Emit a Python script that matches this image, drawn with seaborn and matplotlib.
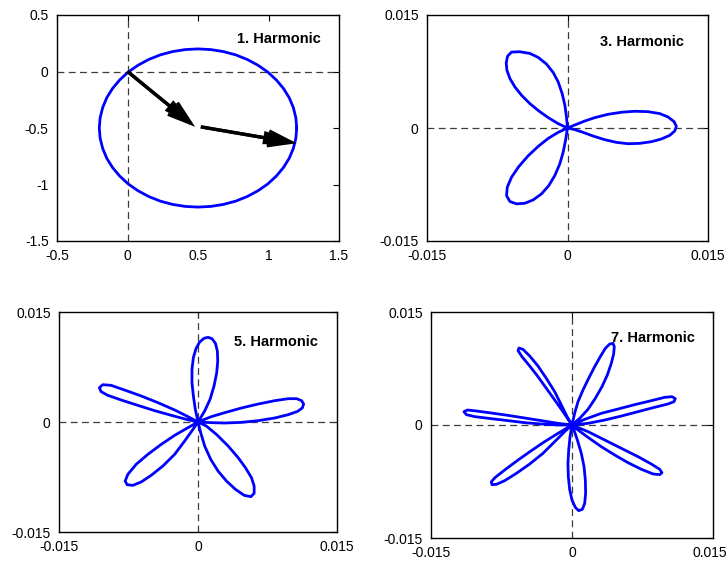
import numpy as np
import pandas as pd
import matplotlib
matplotlib.use("Agg")
import matplotlib.pyplot as plt
import matplotlib.transforms as mtransforms
import seaborn as sns
from matplotlib.patches import ArrowStyle

# ---------------------------------------------------------------------------
# Harmonic loci (x = real part, y = imaginary part)
# ---------------------------------------------------------------------------
# 1st harmonic: locus around (0.5, -0.5)
h1_x = [1.200, 1.194, 1.176, 1.147, 1.106, 1.055, 0.995, 0.926, 0.850, 0.768, 0.681, 0.591,
        0.500, 0.409, 0.319, 0.232, 0.150, 0.074, 0.005, -0.055, -0.106, -0.147, -0.176, -0.194,
        -0.200, -0.194, -0.176, -0.147, -0.106, -0.055, 0.005, 0.074, 0.150, 0.232, 0.319, 0.409,
        0.500, 0.591, 0.681, 0.768, 0.850, 0.926, 0.995, 1.055, 1.106, 1.147, 1.176, 1.194]
h1_y = [-0.500, -0.409, -0.319, -0.232, -0.150, -0.074, -0.005, 0.055, 0.106, 0.147, 0.176, 0.194,
        0.200, 0.194, 0.176, 0.147, 0.106, 0.055, -0.005, -0.074, -0.150, -0.232, -0.319, -0.409,
        -0.500, -0.591, -0.681, -0.768, -0.850, -0.926, -0.995, -1.055, -1.106, -1.147, -1.176, -1.194,
        -1.200, -1.194, -1.176, -1.147, -1.106, -1.055, -0.995, -0.926, -0.850, -0.768, -0.681, -0.591]

# phasor arrows drawn on the 1st-harmonic panel
arrow_x0 = [0.00, 0.52]
arrow_y0 = [0.00, -0.49]
arrow_x1 = [0.48, 1.20]
arrow_y1 = [-0.49, -0.635]

# 3rd harmonic (values in 1e-3)
h3_x = [0.00, 0.78, 1.85, 2.92, 4.34, 5.76, 7.18, 8.60, 9.85, 10.74, 11.38, 11.62,
        11.45, 10.91, 10.02, 8.96, 7.71, 6.47, 5.23, 3.98, 2.74, 1.67, 0.78,
        0.00, -0.11, -0.28, -0.57, -1.00, -1.53, -2.24, -3.13, -4.02, -5.08, -5.97,
        -6.40, -6.54, -6.47, -6.15, -5.62, -4.91, -4.02, -3.06, -2.06, -1.00,
        0.00, -1.00, -2.06, -3.13, -4.19, -5.19, -5.97, -6.43, -6.51, -6.15, -5.44,
        -4.55, -3.66, -2.77, -1.99, -1.35, -0.82, -0.46, -0.21, 0.00]
h3_y = [0.00, 0.40, 0.93, 1.38, 1.82, 2.09, 2.22, 2.17, 1.91, 1.46, 0.84, 0.22,
        -0.40, -0.98, -1.46, -1.82, -2.04, -2.09, -1.91, -1.55, -1.07, -0.58, -0.22,
        0.00, 1.46, 3.02, 4.57, 6.13, 7.37, 8.48, 9.37, 9.90, 10.12, 10.08,
        9.54, 8.65, 7.68, 6.57, 5.46, 4.35, 3.24, 2.26, 1.38, 0.58,
        0.00, -0.58, -1.38, -2.44, -3.68, -5.10, -6.52, -7.86, -8.97, -9.76, -10.07,
        -9.99, -9.54, -8.74, -7.63, -6.30, -4.75, -3.20, -1.64, 0.00]

# 5th harmonic (values in 1e-3)
h5_x = [0.00, -0.29, -0.50, -0.65, -0.65, -0.50, -0.22, 0.18, 0.65, 1.08, 1.51, 1.88,
        2.09, 2.13, 2.02, 1.73, 1.30, 0.72,
        0.00, 1.44, 2.88, 4.69, 6.49, 8.29, 9.74, 10.64, 11.18, 11.40, 11.25, 10.75,
        9.74, 8.29, 6.49, 4.69, 2.88, 1.44,
        0.00, 0.29, 0.72, 1.37, 2.16, 3.07, 4.04, 4.98, 5.70, 6.06, 6.06, 5.77,
        5.12, 4.33, 3.25, 1.98, 0.90,
        0.00, -1.08, -2.52, -3.97, -5.41, -6.67, -7.57, -7.86, -7.65, -7.03, -6.13,
        -5.05, -3.79, -2.52, -1.44, -0.54,
        0.00, -1.08, -2.52, -4.33, -6.13, -7.93, -9.38, -10.28, -10.64, -10.46,
        -9.74, -8.29, -6.49, -4.69, -2.88, -1.26, 0.00]
h5_y = [0.00, 1.73, 3.55, 5.36, 7.18, 8.77, 10.00, 10.91, 11.41, 11.55, 11.36, 10.73,
        9.68, 8.32, 6.73, 4.91, 3.09, 1.50,
        0.00, 0.73, 1.27, 1.91, 2.45, 2.91, 3.18, 3.18, 2.91, 2.45, 1.91, 1.45,
        1.00, 0.55, 0.18, -0.05, -0.14, -0.09,
        0.00, -1.45, -3.27, -5.09, -6.68, -8.05, -9.18, -10.00, -10.18, -9.73, -8.73, -7.59,
        -6.23, -4.86, -3.27, -1.68, -0.55,
        0.00, -0.77, -1.82, -3.05, -4.41, -5.77, -7.14, -8.05, -8.55, -8.64, -8.18,
        -7.27, -6.00, -4.41, -2.59, -1.00,
        0.00, 0.73, 1.64, 2.64, 3.55, 4.36, 5.00, 5.09, 4.68, 4.14,
        3.64, 3.00, 2.27, 1.55, 0.91, 0.36, 0.00]

# 7th harmonic (values in 1e-3)
h7_x = [0.00, 0.28, 0.64, 1.17, 1.77, 2.41, 3.05, 3.55, 4.01, 4.36, 4.50, 4.43,
        4.18, 3.76, 3.19, 2.48, 1.70, 0.82,
        0.00, 1.35, 3.12, 4.89, 6.67, 8.44, 9.86, 10.64, 10.99, 10.85, 10.21,
        8.79, 7.02, 5.25, 3.48, 1.70,
        0.00, 1.70, 3.48, 5.25, 7.02, 8.44, 9.33, 9.57, 9.33, 8.62, 7.38,
        5.96, 4.54, 3.12, 1.70, 0.64,
        0.00, -0.21, -0.35, -0.43, -0.39, -0.25, 0.00, 0.35, 0.71, 1.10, 1.35,
        1.45, 1.42, 1.28, 0.99, 0.57, 0.21,
        0.00, -1.49, -2.91, -4.33, -5.74, -7.16, -8.16, -8.58, -8.51, -8.05,
        -7.16, -5.92, -4.50, -3.09, -1.84, -0.78,
        0.00, -1.49, -3.26, -5.04, -6.81, -8.58, -10.18, -11.13, -11.49, -11.24,
        -10.35, -8.58, -6.81, -5.04, -3.26, -1.49,
        0.00, -0.96, -1.84, -2.73, -3.62, -4.50, -5.32, -5.74, -5.64, -5.21,
        -4.50, -3.62, -2.73, -1.84, -1.13, -0.43, 0.00]
h7_y = [0.00, 1.55, 3.10, 4.65, 6.19, 7.74, 9.16, 10.18, 10.75, 10.84, 10.40, 9.42,
        8.19, 6.64, 5.09, 3.54, 2.08, 0.88,
        0.00, 0.75, 1.55, 2.12, 2.70, 3.23, 3.67, 3.76, 3.50, 3.10, 2.79,
        2.35, 1.77, 1.19, 0.66, 0.22,
        0.00, -0.88, -1.99, -3.10, -4.20, -5.18, -5.88, -6.33, -6.59, -6.50, -5.88,
        -5.00, -3.98, -2.88, -1.64, -0.66,
        0.00, -1.55, -3.32, -5.09, -6.86, -8.54, -9.96, -10.93, -11.37, -11.19, -10.40,
        -9.07, -7.30, -5.53, -3.76, -1.99, -0.66,
        0.00, -1.11, -2.21, -3.41, -4.65, -5.97, -6.95, -7.52, -7.92, -7.88,
        -7.39, -6.42, -5.18, -3.76, -2.21, -0.88,
        0.00, 0.22, 0.58, 0.93, 1.28, 1.59, 1.86, 1.99, 1.77, 1.37,
        1.11, 0.84, 0.58, 0.31, 0.13, 0.00,
        0.00, 1.77, 3.32, 4.87, 6.42, 7.83, 9.07, 9.87, 10.22, 10.04,
        9.16, 7.83, 6.19, 4.42, 2.65, 0.88, 0.00]

titles = ["1. Harmonic", "3. Harmonic", "5. Harmonic", "7. Harmonic"]

h1_ticks = [-0.5, 0, 0.5, 1, 1.5]
h1_ticklabels = ["-0.5", "0", "0.5", "1", "1.5"]
h1_yticks = [-1.5, -1, -0.5, 0, 0.5]
h1_yticklabels = ["-1.5", "-1", "-0.5", "0", "0.5"]
hn_ticks = [-0.015, 0, 0.015]
hn_ticklabels = ["-0.015", "0", "0.015"]

# ---------------------------------------------------------------------------
sns.set_theme(style="white")
plt.rcParams["font.family"] = ["Liberation Sans", "DejaVu Sans"]
plt.rcParams["axes.unicode_minus"] = False

W, H = 728, 562
fig = plt.figure(figsize=(W / 100, H / 100), dpi=100)


def px_axes(left, top, right, bottom):
    return fig.add_axes([left / W, 1 - bottom / H, (right - left) / W, (bottom - top) / H])


ax1 = px_axes(57, 15, 339, 241)
ax3 = px_axes(427, 15, 708, 241)
ax5 = px_axes(59, 312, 337, 532)
ax7 = px_axes(431, 312, 713, 538)

curves = [
    (ax1, np.array(h1_x + h1_x[:1]), np.array(h1_y + h1_y[:1])),
    (ax3, np.array(h3_x) * 1e-3, np.array(h3_y) * 1e-3),
    (ax5, np.array(h5_x) * 1e-3, np.array(h5_y) * 1e-3),
    (ax7, np.array(h7_x) * 1e-3, np.array(h7_y) * 1e-3),
]

title_pos = [(0.775, 0.292), (0.0035, 0.0114), (0.0039, 0.0109), (0.0041, 0.0115)]

for (ax, xs, ys), title, (tx, ty) in zip(curves, titles, title_pos):
    ax.axhline(0, color="#3c3c3c", lw=0.9, ls=(0, (5.5, 3.5)), zorder=1)
    ax.axvline(0, color="#3c3c3c", lw=0.9, ls=(0, (5.5, 3.5)), zorder=1)
    df = pd.DataFrame({"x": xs, "y": ys})
    sns.lineplot(data=df, x="x", y="y", sort=False, estimator=None,
                 color="#0000ff", lw=2.0, ax=ax, zorder=3)
    ax.lines[-1].set_solid_joinstyle("round")
    ax.text(tx, ty, title, fontsize=10.5, fontweight="bold", ha="left",
            va="center", color="black", zorder=4)
    ax.set_xlabel("")
    ax.set_ylabel("")
    for sp in ax.spines.values():
        sp.set_color("black")
        sp.set_linewidth(1.0)
    ax.tick_params(direction="in", length=4, width=0.8, top=True, right=True,
                   labelsize=10, colors="black", pad=6)

ax1.set_xlim(-0.5, 1.5)
ax1.set_ylim(-1.5, 0.5)
ax1.set_xticks(h1_ticks)
ax1.set_xticklabels(h1_ticklabels)
ax1.set_yticks(h1_yticks)
ax1.set_yticklabels(h1_yticklabels)

for ax in (ax3, ax5, ax7):
    ax.set_xlim(-0.015, 0.015)
    ax.set_ylim(-0.015, 0.015)
    ax.set_xticks(hn_ticks)
    ax.set_xticklabels(hn_ticklabels)
    ax.set_yticks(hn_ticks)
    ax.set_yticklabels(hn_ticklabels)

# keep the right-most tick label of the lower-right panel inside the canvas
last = ax7.get_xticklabels()[-1]
last.set_transform(last.get_transform()
                   + mtransforms.ScaledTranslation(-3 / 100, 0, fig.dpi_scale_trans))

# phasor arrows: thick open barbs plus a narrow filled core give a swept head
barbs = ArrowStyle("->", head_length=0.85, head_width=0.27)
core = ArrowStyle("-|>", head_length=0.85, head_width=0.17)
for x0, y0, x1, y1 in zip(arrow_x0, arrow_y0, arrow_x1, arrow_y1):
    for st in (barbs, core):
        ax1.annotate("", xy=(x1, y1), xytext=(x0, y0),
                     arrowprops=dict(arrowstyle=st, color="black", lw=2.4,
                                     mutation_scale=20, shrinkA=0, shrinkB=0,
                                     capstyle="butt", joinstyle="miter"),
                     zorder=5)

fig.savefig("out.png", dpi=100)
